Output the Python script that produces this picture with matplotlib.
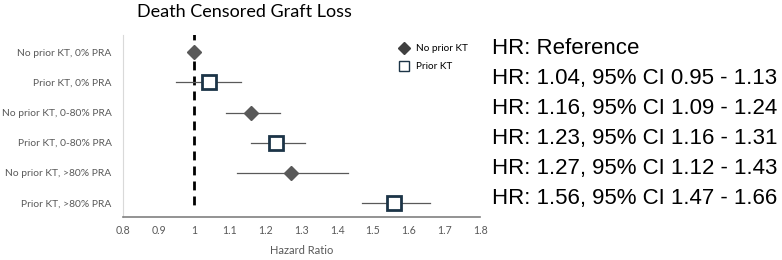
import matplotlib
matplotlib.use("Agg")
import matplotlib.pyplot as plt
from matplotlib.lines import Line2D
from matplotlib.ticker import FuncFormatter

# data
groups = ['No prior KT, 0% PRA', 'Prior KT, 0% PRA', 'No prior KT, 0-80% PRA',
          'Prior KT, 0-80% PRA', 'No prior KT, >80% PRA', 'Prior KT, >80% PRA']
prior_kt = [False, True, False, True, False, True]
hr = [1.00, 1.04, 1.16, 1.23, 1.27, 1.56]
ci_low = [1.00, 0.95, 1.09, 1.16, 1.12, 1.47]
ci_high = [1.00, 1.13, 1.24, 1.31, 1.43, 1.66]
hr_labels = ['HR: Reference',
             'HR: 1.04, 95% CI 0.95 - 1.13',
             'HR: 1.16, 95% CI 1.09 - 1.24',
             'HR: 1.23, 95% CI 1.16 - 1.31',
             'HR: 1.27, 95% CI 1.12 - 1.43',
             'HR: 1.56, 95% CI 1.47 - 1.66']
x_ticks = [0.8, 0.9, 1.0, 1.1, 1.2, 1.3, 1.4, 1.5, 1.6, 1.7, 1.8]

GRAY = '#595959'
NAVY = '#1c3447'
plt.rcParams['font.family'] = ['Lato', 'DejaVu Sans']

fig = plt.figure(figsize=(7.82, 2.6), dpi=100)
ax = fig.add_axes([0.157, 0.165, 0.457, 0.70])

ypos = list(range(1, len(groups) + 1))

# reference line at HR = 1
ax.plot([1, 1], [0.3, 6.25], color='black', lw=2, ls=(0, (3.2, 2.2)), zorder=1)

for y, h, lo, hi, pk in zip(ypos, hr, ci_low, ci_high, prior_kt):
    ax.plot([lo, hi], [y, y], color=GRAY, lw=0.9, zorder=2)
    if pk:
        ax.plot(h, y, marker='s', ms=10, mfc='white', mec=NAVY, mew=2, zorder=3)
    else:
        ax.plot(h, y, marker='D', ms=7, color=GRAY, zorder=3)

ax.set_xlim(0.8, 1.8)
ax.set_ylim(6.47, 0.43)
ax.set_xticks(x_ticks)
ax.xaxis.set_major_formatter(FuncFormatter(lambda v, p: f'{v:g}'))
ax.set_yticks(ypos)
ax.set_yticklabels(groups)
ax.tick_params(axis='y', length=0, labelsize=7.4, colors=GRAY, pad=8)
ax.tick_params(axis='x', length=0, labelsize=7.6, colors=GRAY, pad=6)
ax.set_xlabel('Hazard Ratio', fontsize=8, color=GRAY, labelpad=6)

for s in ['top', 'right']:
    ax.spines[s].set_visible(False)
ax.spines['left'].set_color('#d9d9d9')
ax.spines['bottom'].set_color('#808080')
ax.spines['bottom'].set_linewidth(1.2)

fig.text(0.313, 0.952, 'Death Censored Graft Loss', ha='center', va='center',
         fontsize=13, color='black')

handles = [Line2D([], [], ls='', marker='D', ms=6, color='#404040'),
           Line2D([], [], ls='', marker='s', ms=7, mfc='white', mec=NAVY, mew=1)]
fig.legend(handles, ['No prior KT', 'Prior KT'], loc='upper left',
           bbox_to_anchor=(0.498, 0.865), frameon=False, fontsize=7.2,
           handletextpad=0.6, labelspacing=0.9, handlelength=1.2)

# HR annotations to the right of the plot, aligned to each row
for y, t in zip(ypos, hr_labels):
    ax.annotate(t, xy=(1.0, y), xycoords=('axes fraction', 'data'),
                xytext=(12, 4), textcoords='offset pixels', ha='left', va='center',
                fontsize=16, family=['Liberation Sans', 'DejaVu Sans'],
                color='black', annotation_clip=False)

fig.savefig('out.png', dpi=100)
